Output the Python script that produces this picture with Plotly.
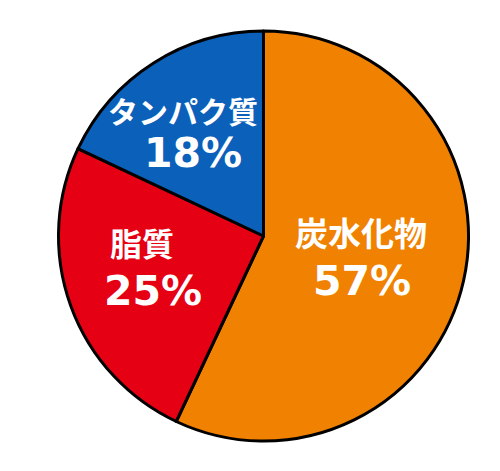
import plotly.graph_objects as go

labels = ["炭水化物", "脂質", "タンパク質"]
values = [57, 25, 18]
colors = ["#F18100", "#E60013", "#0B60BA"]

W, H = 500, 471
OFF = 8  # page body margin of the html page

def px_x(x):
    return (x - OFF) / W

def px_y(y):
    return 1 - (y - OFF) / H

fig = go.Figure(go.Pie(
    labels=labels,
    values=values,
    sort=False,
    direction="clockwise",
    rotation=0,
    marker=dict(colors=colors, line=dict(color="#000000", width=3)),
    textinfo="none",
    hoverinfo="label+percent",
    showlegend=False,
    domain=dict(x=[px_x(58.5), px_x(468.5)], y=[px_y(441), px_y(31)]),
))

# label placement (pixel centres) and sizes
name_pos = [(361, 232, 33), (142, 242, 32), (183, 110, 30)]
pct_pos = [(362, 281), (153, 291), (193, 153)]

for lab, val, (nx, ny, ns), (px, py) in zip(labels, values, name_pos, pct_pos):
    fig.add_annotation(
        x=px_x(nx), y=px_y(ny), xref="paper", yref="paper",
        text=lab, showarrow=False, xanchor="center", yanchor="middle",
        font=dict(family="Noto Sans CJK JP", size=ns, color="white", weight="bold"),
    )
    fig.add_annotation(
        x=px_x(px), y=px_y(py), xref="paper", yref="paper",
        text=f"{val}%", showarrow=False, xanchor="center", yanchor="middle",
        font=dict(family="DejaVu Sans", size=41, color="white", weight="bold"),
    )

fig.update_layout(
    width=W, height=H,
    margin=dict(l=0, r=0, t=0, b=0),
    paper_bgcolor="white",
    plot_bgcolor="white",
)

fig.write_html("out.html")
